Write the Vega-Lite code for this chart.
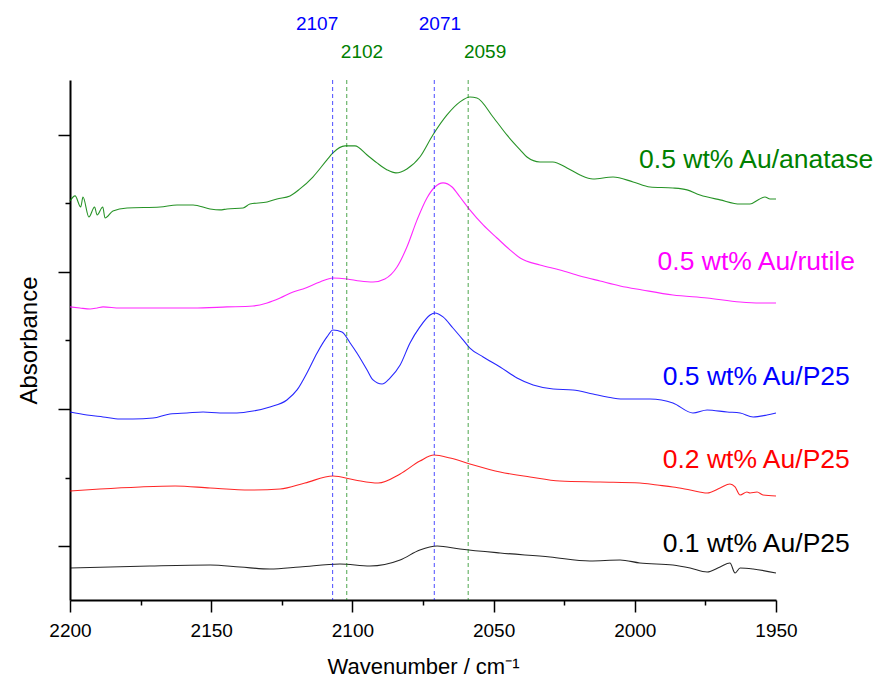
{
  "$schema": "https://vega.github.io/schema/vega-lite/v6.json",
  "width": 706,
  "height": 520,
  "autosize": {"type": "none"},
  "padding": {"left": 70, "top": 80, "right": 102, "bottom": 82},
  "background": "white",
  "config": {
    "view": {"stroke": null},
    "font": "Liberation Sans",
    "axis": {
      "grid": false,
      "domainColor": "black",
      "domainWidth": 2,
      "tickColor": "black",
      "tickWidth": 1.5,
      "labelColor": "black",
      "titleColor": "black",
      "labelFont": "Liberation Sans",
      "titleFont": "Liberation Sans",
      "titleFontWeight": "normal"
    }
  },
  "datasets": {
    "spectra": [
      {"series": "0.5 wt% Au/anatase", "wn": 2200, "a": 2.518},
      {"series": "0.5 wt% Au/anatase", "wn": 2198.2, "a": 2.555},
      {"series": "0.5 wt% Au/anatase", "wn": 2196.2, "a": 2.474},
      {"series": "0.5 wt% Au/anatase", "wn": 2195.4, "a": 2.547},
      {"series": "0.5 wt% Au/anatase", "wn": 2193.3, "a": 2.401},
      {"series": "0.5 wt% Au/anatase", "wn": 2191.3, "a": 2.474},
      {"series": "0.5 wt% Au/anatase", "wn": 2190.4, "a": 2.416},
      {"series": "0.5 wt% Au/anatase", "wn": 2188.4, "a": 2.474},
      {"series": "0.5 wt% Au/anatase", "wn": 2187.6, "a": 2.394},
      {"series": "0.5 wt% Au/anatase", "wn": 2184.8, "a": 2.445},
      {"series": "0.5 wt% Au/anatase", "wn": 2179.8, "a": 2.467},
      {"series": "0.5 wt% Au/anatase", "wn": 2168.1, "a": 2.474},
      {"series": "0.5 wt% Au/anatase", "wn": 2162.1, "a": 2.489},
      {"series": "0.5 wt% Au/anatase", "wn": 2156.4, "a": 2.489},
      {"series": "0.5 wt% Au/anatase", "wn": 2150.4, "a": 2.46},
      {"series": "0.5 wt% Au/anatase", "wn": 2146.9, "a": 2.453},
      {"series": "0.5 wt% Au/anatase", "wn": 2144.4, "a": 2.46},
      {"series": "0.5 wt% Au/anatase", "wn": 2138.7, "a": 2.467},
      {"series": "0.5 wt% Au/anatase", "wn": 2136.3, "a": 2.496},
      {"series": "0.5 wt% Au/anatase", "wn": 2130.2, "a": 2.511},
      {"series": "0.5 wt% Au/anatase", "wn": 2126.7, "a": 2.533},
      {"series": "0.5 wt% Au/anatase", "wn": 2122.1, "a": 2.555},
      {"series": "0.5 wt% Au/anatase", "wn": 2118.6, "a": 2.606},
      {"series": "0.5 wt% Au/anatase", "wn": 2114.0, "a": 2.693},
      {"series": "0.5 wt% Au/anatase", "wn": 2109.0, "a": 2.818},
      {"series": "0.5 wt% Au/anatase", "wn": 2106.9, "a": 2.869},
      {"series": "0.5 wt% Au/anatase", "wn": 2102.6, "a": 2.92},
      {"series": "0.5 wt% Au/anatase", "wn": 2099.1, "a": 2.92},
      {"series": "0.5 wt% Au/anatase", "wn": 2094.8, "a": 2.854},
      {"series": "0.5 wt% Au/anatase", "wn": 2091.3, "a": 2.796},
      {"series": "0.5 wt% Au/anatase", "wn": 2087.7, "a": 2.745},
      {"series": "0.5 wt% Au/anatase", "wn": 2084.6, "a": 2.723},
      {"series": "0.5 wt% Au/anatase", "wn": 2080.7, "a": 2.752},
      {"series": "0.5 wt% Au/anatase", "wn": 2076.1, "a": 2.839},
      {"series": "0.5 wt% Au/anatase", "wn": 2071.5, "a": 3.0},
      {"series": "0.5 wt% Au/anatase", "wn": 2066.5, "a": 3.146},
      {"series": "0.5 wt% Au/anatase", "wn": 2061.9, "a": 3.241},
      {"series": "0.5 wt% Au/anatase", "wn": 2058.4, "a": 3.277},
      {"series": "0.5 wt% Au/anatase", "wn": 2055.9, "a": 3.27},
      {"series": "0.5 wt% Au/anatase", "wn": 2050.2, "a": 3.131},
      {"series": "0.5 wt% Au/anatase", "wn": 2045.3, "a": 3.0},
      {"series": "0.5 wt% Au/anatase", "wn": 2040.6, "a": 2.891},
      {"series": "0.5 wt% Au/anatase", "wn": 2038.2, "a": 2.839},
      {"series": "0.5 wt% Au/anatase", "wn": 2033.6, "a": 2.803},
      {"series": "0.5 wt% Au/anatase", "wn": 2029.0, "a": 2.803},
      {"series": "0.5 wt% Au/anatase", "wn": 2024.0, "a": 2.759},
      {"series": "0.5 wt% Au/anatase", "wn": 2019.4, "a": 2.708},
      {"series": "0.5 wt% Au/anatase", "wn": 2014.8, "a": 2.679},
      {"series": "0.5 wt% Au/anatase", "wn": 2007.7, "a": 2.693},
      {"series": "0.5 wt% Au/anatase", "wn": 2000.6, "a": 2.657},
      {"series": "0.5 wt% Au/anatase", "wn": 1994.6, "a": 2.62},
      {"series": "0.5 wt% Au/anatase", "wn": 1986.5, "a": 2.613},
      {"series": "0.5 wt% Au/anatase", "wn": 1981.5, "a": 2.599},
      {"series": "0.5 wt% Au/anatase", "wn": 1976.9, "a": 2.562},
      {"series": "0.5 wt% Au/anatase", "wn": 1969.8, "a": 2.526},
      {"series": "0.5 wt% Au/anatase", "wn": 1962.7, "a": 2.496},
      {"series": "0.5 wt% Au/anatase", "wn": 1959.2, "a": 2.496},
      {"series": "0.5 wt% Au/anatase", "wn": 1956.4, "a": 2.526},
      {"series": "0.5 wt% Au/anatase", "wn": 1953.9, "a": 2.547},
      {"series": "0.5 wt% Au/anatase", "wn": 1952.1, "a": 2.533},
      {"series": "0.5 wt% Au/anatase", "wn": 1950, "a": 2.533},

      {"series": "0.5 wt% Au/rutile", "wn": 2200, "a": 1.745},
      {"series": "0.5 wt% Au/rutile", "wn": 2196.5, "a": 1.737},
      {"series": "0.5 wt% Au/rutile", "wn": 2192.9, "a": 1.73},
      {"series": "0.5 wt% Au/rutile", "wn": 2190.4, "a": 1.737},
      {"series": "0.5 wt% Au/rutile", "wn": 2188.3, "a": 1.745},
      {"series": "0.5 wt% Au/rutile", "wn": 2182.3, "a": 1.737},
      {"series": "0.5 wt% Au/rutile", "wn": 2168.1, "a": 1.737},
      {"series": "0.5 wt% Au/rutile", "wn": 2156.4, "a": 1.737},
      {"series": "0.5 wt% Au/rutile", "wn": 2144.4, "a": 1.745},
      {"series": "0.5 wt% Au/rutile", "wn": 2135.2, "a": 1.752},
      {"series": "0.5 wt% Au/rutile", "wn": 2130.2, "a": 1.774},
      {"series": "0.5 wt% Au/rutile", "wn": 2125.6, "a": 1.81},
      {"series": "0.5 wt% Au/rutile", "wn": 2121.0, "a": 1.854},
      {"series": "0.5 wt% Au/rutile", "wn": 2117.5, "a": 1.876},
      {"series": "0.5 wt% Au/rutile", "wn": 2111.5, "a": 1.927},
      {"series": "0.5 wt% Au/rutile", "wn": 2106.9, "a": 1.956},
      {"series": "0.5 wt% Au/rutile", "wn": 2101.9, "a": 1.949},
      {"series": "0.5 wt% Au/rutile", "wn": 2097.3, "a": 1.934},
      {"series": "0.5 wt% Au/rutile", "wn": 2092.7, "a": 1.927},
      {"series": "0.5 wt% Au/rutile", "wn": 2088.5, "a": 1.949},
      {"series": "0.5 wt% Au/rutile", "wn": 2084.2, "a": 2.036},
      {"series": "0.5 wt% Au/rutile", "wn": 2080.7, "a": 2.182},
      {"series": "0.5 wt% Au/rutile", "wn": 2077.1, "a": 2.38},
      {"series": "0.5 wt% Au/rutile", "wn": 2073.6, "a": 2.54},
      {"series": "0.5 wt% Au/rutile", "wn": 2070.8, "a": 2.62},
      {"series": "0.5 wt% Au/rutile", "wn": 2067.9, "a": 2.65},
      {"series": "0.5 wt% Au/rutile", "wn": 2064.7, "a": 2.62},
      {"series": "0.5 wt% Au/rutile", "wn": 2061.9, "a": 2.547},
      {"series": "0.5 wt% Au/rutile", "wn": 2058.4, "a": 2.453},
      {"series": "0.5 wt% Au/rutile", "wn": 2053.7, "a": 2.343},
      {"series": "0.5 wt% Au/rutile", "wn": 2048.8, "a": 2.248},
      {"series": "0.5 wt% Au/rutile", "wn": 2044.2, "a": 2.161},
      {"series": "0.5 wt% Au/rutile", "wn": 2040.6, "a": 2.102},
      {"series": "0.5 wt% Au/rutile", "wn": 2033.6, "a": 2.051},
      {"series": "0.5 wt% Au/rutile", "wn": 2026.5, "a": 2.015},
      {"series": "0.5 wt% Au/rutile", "wn": 2019.4, "a": 1.971},
      {"series": "0.5 wt% Au/rutile", "wn": 2012.3, "a": 1.934},
      {"series": "0.5 wt% Au/rutile", "wn": 2005.2, "a": 1.898},
      {"series": "0.5 wt% Au/rutile", "wn": 1997.4, "a": 1.869},
      {"series": "0.5 wt% Au/rutile", "wn": 1986.5, "a": 1.832},
      {"series": "0.5 wt% Au/rutile", "wn": 1974.4, "a": 1.81},
      {"series": "0.5 wt% Au/rutile", "wn": 1962.7, "a": 1.781},
      {"series": "0.5 wt% Au/rutile", "wn": 1955.7, "a": 1.774},
      {"series": "0.5 wt% Au/rutile", "wn": 1950, "a": 1.774},

      {"series": "0.5 wt% Au/P25", "wn": 2200, "a": 0.978},
      {"series": "0.5 wt% Au/P25", "wn": 2194.0, "a": 0.956},
      {"series": "0.5 wt% Au/P25", "wn": 2188.3, "a": 0.942},
      {"series": "0.5 wt% Au/P25", "wn": 2182.3, "a": 0.927},
      {"series": "0.5 wt% Au/P25", "wn": 2177.7, "a": 0.927},
      {"series": "0.5 wt% Au/P25", "wn": 2170.6, "a": 0.934},
      {"series": "0.5 wt% Au/P25", "wn": 2164.6, "a": 0.964},
      {"series": "0.5 wt% Au/P25", "wn": 2158.6, "a": 0.971},
      {"series": "0.5 wt% Au/P25", "wn": 2152.9, "a": 0.978},
      {"series": "0.5 wt% Au/P25", "wn": 2146.9, "a": 0.971},
      {"series": "0.5 wt% Au/P25", "wn": 2140.9, "a": 0.971},
      {"series": "0.5 wt% Au/P25", "wn": 2135.2, "a": 0.985},
      {"series": "0.5 wt% Au/P25", "wn": 2129.2, "a": 1.015},
      {"series": "0.5 wt% Au/P25", "wn": 2123.2, "a": 1.066},
      {"series": "0.5 wt% Au/P25", "wn": 2119.6, "a": 1.139},
      {"series": "0.5 wt% Au/P25", "wn": 2116.1, "a": 1.263},
      {"series": "0.5 wt% Au/P25", "wn": 2112.5, "a": 1.409},
      {"series": "0.5 wt% Au/P25", "wn": 2109.0, "a": 1.526},
      {"series": "0.5 wt% Au/P25", "wn": 2106.9, "a": 1.577},
      {"series": "0.5 wt% Au/P25", "wn": 2103.7, "a": 1.562},
      {"series": "0.5 wt% Au/P25", "wn": 2100.8, "a": 1.482},
      {"series": "0.5 wt% Au/P25", "wn": 2098.4, "a": 1.409},
      {"series": "0.5 wt% Au/P25", "wn": 2094.8, "a": 1.285},
      {"series": "0.5 wt% Au/P25", "wn": 2092.7, "a": 1.212},
      {"series": "0.5 wt% Au/P25", "wn": 2089.5, "a": 1.182},
      {"series": "0.5 wt% Au/P25", "wn": 2086.7, "a": 1.226},
      {"series": "0.5 wt% Au/P25", "wn": 2083.1, "a": 1.321},
      {"series": "0.5 wt% Au/P25", "wn": 2079.6, "a": 1.482},
      {"series": "0.5 wt% Au/P25", "wn": 2076.1, "a": 1.599},
      {"series": "0.5 wt% Au/P25", "wn": 2072.5, "a": 1.686},
      {"series": "0.5 wt% Au/P25", "wn": 2070.8, "a": 1.701},
      {"series": "0.5 wt% Au/P25", "wn": 2067.9, "a": 1.672},
      {"series": "0.5 wt% Au/P25", "wn": 2064.4, "a": 1.591},
      {"series": "0.5 wt% Au/P25", "wn": 2060.8, "a": 1.504},
      {"series": "0.5 wt% Au/P25", "wn": 2058.4, "a": 1.445},
      {"series": "0.5 wt% Au/P25", "wn": 2053.7, "a": 1.38},
      {"series": "0.5 wt% Au/P25", "wn": 2047.7, "a": 1.307},
      {"series": "0.5 wt% Au/P25", "wn": 2041.7, "a": 1.226},
      {"series": "0.5 wt% Au/P25", "wn": 2036.0, "a": 1.175},
      {"series": "0.5 wt% Au/P25", "wn": 2028.9, "a": 1.146},
      {"series": "0.5 wt% Au/P25", "wn": 2021.9, "a": 1.139},
      {"series": "0.5 wt% Au/P25", "wn": 2014.8, "a": 1.109},
      {"series": "0.5 wt% Au/P25", "wn": 2009.8, "a": 1.088},
      {"series": "0.5 wt% Au/P25", "wn": 2004.2, "a": 1.073},
      {"series": "0.5 wt% Au/P25", "wn": 1994.6, "a": 1.073},
      {"series": "0.5 wt% Au/P25", "wn": 1986.5, "a": 1.044},
      {"series": "0.5 wt% Au/P25", "wn": 1979.4, "a": 0.971},
      {"series": "0.5 wt% Au/P25", "wn": 1974.4, "a": 0.993},
      {"series": "0.5 wt% Au/P25", "wn": 1967.3, "a": 0.978},
      {"series": "0.5 wt% Au/P25", "wn": 1962.7, "a": 0.971},
      {"series": "0.5 wt% Au/P25", "wn": 1958.1, "a": 0.942},
      {"series": "0.5 wt% Au/P25", "wn": 1953.2, "a": 0.956},
      {"series": "0.5 wt% Au/P25", "wn": 1950, "a": 0.971},

      {"series": "0.2 wt% Au/P25", "wn": 2200, "a": 0.401},
      {"series": "0.2 wt% Au/P25", "wn": 2189.4, "a": 0.416},
      {"series": "0.2 wt% Au/P25", "wn": 2175.2, "a": 0.431},
      {"series": "0.2 wt% Au/P25", "wn": 2162.8, "a": 0.438},
      {"series": "0.2 wt% Au/P25", "wn": 2150.4, "a": 0.423},
      {"series": "0.2 wt% Au/P25", "wn": 2136.3, "a": 0.409},
      {"series": "0.2 wt% Au/P25", "wn": 2125.6, "a": 0.416},
      {"series": "0.2 wt% Au/P25", "wn": 2116.8, "a": 0.46},
      {"series": "0.2 wt% Au/P25", "wn": 2106.9, "a": 0.511},
      {"series": "0.2 wt% Au/P25", "wn": 2099.1, "a": 0.482},
      {"series": "0.2 wt% Au/P25", "wn": 2090.9, "a": 0.46},
      {"series": "0.2 wt% Au/P25", "wn": 2083.1, "a": 0.526},
      {"series": "0.2 wt% Au/P25", "wn": 2076.1, "a": 0.62},
      {"series": "0.2 wt% Au/P25", "wn": 2071.1, "a": 0.664},
      {"series": "0.2 wt% Au/P25", "wn": 2065.4, "a": 0.642},
      {"series": "0.2 wt% Au/P25", "wn": 2058.4, "a": 0.599},
      {"series": "0.2 wt% Au/P25", "wn": 2047.7, "a": 0.54},
      {"series": "0.2 wt% Au/P25", "wn": 2037.1, "a": 0.504},
      {"series": "0.2 wt% Au/P25", "wn": 2026.5, "a": 0.474},
      {"series": "0.2 wt% Au/P25", "wn": 2012.3, "a": 0.467},
      {"series": "0.2 wt% Au/P25", "wn": 1998.2, "a": 0.46},
      {"series": "0.2 wt% Au/P25", "wn": 1992.1, "a": 0.445},
      {"series": "0.2 wt% Au/P25", "wn": 1986.5, "a": 0.431},
      {"series": "0.2 wt% Au/P25", "wn": 1980.4, "a": 0.409},
      {"series": "0.2 wt% Au/P25", "wn": 1974.4, "a": 0.387},
      {"series": "0.2 wt% Au/P25", "wn": 1969.8, "a": 0.423},
      {"series": "0.2 wt% Au/P25", "wn": 1966.3, "a": 0.453},
      {"series": "0.2 wt% Au/P25", "wn": 1964.5, "a": 0.431},
      {"series": "0.2 wt% Au/P25", "wn": 1962.7, "a": 0.372},
      {"series": "0.2 wt% Au/P25", "wn": 1960.3, "a": 0.394},
      {"series": "0.2 wt% Au/P25", "wn": 1959.2, "a": 0.387},
      {"series": "0.2 wt% Au/P25", "wn": 1956.7, "a": 0.394},
      {"series": "0.2 wt% Au/P25", "wn": 1954.6, "a": 0.372},
      {"series": "0.2 wt% Au/P25", "wn": 1950, "a": 0.365},

      {"series": "0.1 wt% Au/P25", "wn": 2200, "a": -0.161},
      {"series": "0.1 wt% Au/P25", "wn": 2185.8, "a": -0.153},
      {"series": "0.1 wt% Au/P25", "wn": 2171.7, "a": -0.146},
      {"series": "0.1 wt% Au/P25", "wn": 2150.4, "a": -0.139},
      {"series": "0.1 wt% Au/P25", "wn": 2139.8, "a": -0.153},
      {"series": "0.1 wt% Au/P25", "wn": 2129.2, "a": -0.168},
      {"series": "0.1 wt% Au/P25", "wn": 2118.6, "a": -0.153},
      {"series": "0.1 wt% Au/P25", "wn": 2104.4, "a": -0.131},
      {"series": "0.1 wt% Au/P25", "wn": 2093.8, "a": -0.146},
      {"series": "0.1 wt% Au/P25", "wn": 2083.1, "a": -0.102},
      {"series": "0.1 wt% Au/P25", "wn": 2076.1, "a": -0.029},
      {"series": "0.1 wt% Au/P25", "wn": 2070.0, "a": 0.0},
      {"series": "0.1 wt% Au/P25", "wn": 2061.9, "a": -0.022},
      {"series": "0.1 wt% Au/P25", "wn": 2047.7, "a": -0.051},
      {"series": "0.1 wt% Au/P25", "wn": 2030.0, "a": -0.08},
      {"series": "0.1 wt% Au/P25", "wn": 2015.9, "a": -0.109},
      {"series": "0.1 wt% Au/P25", "wn": 2005.2, "a": -0.102},
      {"series": "0.1 wt% Au/P25", "wn": 1998.2, "a": -0.124},
      {"series": "0.1 wt% Au/P25", "wn": 1986.5, "a": -0.139},
      {"series": "0.1 wt% Au/P25", "wn": 1980.4, "a": -0.161},
      {"series": "0.1 wt% Au/P25", "wn": 1974.4, "a": -0.19},
      {"series": "0.1 wt% Au/P25", "wn": 1969.8, "a": -0.153},
      {"series": "0.1 wt% Au/P25", "wn": 1966.3, "a": -0.124},
      {"series": "0.1 wt% Au/P25", "wn": 1964.5, "a": -0.197},
      {"series": "0.1 wt% Au/P25", "wn": 1962.7, "a": -0.161},
      {"series": "0.1 wt% Au/P25", "wn": 1958.1, "a": -0.168},
      {"series": "0.1 wt% Au/P25", "wn": 1950, "a": -0.197}
    ],
    "peaks": [
      {"series": "0.5 wt% Au/P25", "peak": 2107, "label": "2107", "lx": 2112.5, "ly": 3.81},
      {"series": "0.5 wt% Au/anatase", "peak": 2102, "label": "2102", "lx": 2096.6, "ly": 3.606},
      {"series": "0.5 wt% Au/P25", "peak": 2071, "label": "2071", "lx": 2069.0, "ly": 3.81},
      {"series": "0.5 wt% Au/anatase", "peak": 2059, "label": "2059", "lx": 2053.0, "ly": 3.606}
    ],
    "labels": [
      {"series": "0.5 wt% Au/anatase", "lx": 1957, "ly": 2.818},
      {"series": "0.5 wt% Au/rutile", "lx": 1957, "ly": 2.073},
      {"series": "0.5 wt% Au/P25", "lx": 1957, "ly": 1.234},
      {"series": "0.2 wt% Au/P25", "lx": 1957, "ly": 0.628},
      {"series": "0.1 wt% Au/P25", "lx": 1957, "ly": 0.015}
    ]
  },
  "encoding": {
    "x": {"field": "wn", "type": "quantitative",
      "scale": {"domain": [1950, 2200], "reverse": true, "nice": false, "zero": false},
      "title": "Wavenumber / cm⁻¹",
      "axis": {
        "values": [2200, 2175, 2150, 2125, 2100, 2075, 2050, 2025, 2000, 1975, 1950],
        "format": "d",
        "labelExpr": "datum.value % 50 === 0 ? datum.label : ''",
        "labelOverlap": false,
        "labelFlush": false,
        "labelFontSize": 19,
        "labelPadding": 9,
        "tickSize": {"condition": {"test": "datum.value % 50 === 0", "value": 12}, "value": 5},
        "titleFontSize": 22,
        "titlePadding": 16
      }
    },
    "y": {"field": "a", "type": "quantitative",
      "scale": {"domain": [-0.394, 3.401], "nice": false, "zero": false},
      "title": "Absorbance",
      "axis": {
        "values": [0, 0.5, 1, 1.5, 2, 2.5, 3],
        "labels": false,
        "tickSize": {"condition": {"test": "datum.value % 1 === 0", "value": 12}, "value": 5},
        "titleFontSize": 24,
        "titlePadding": 16
      }
    },
    "color": {"field": "series", "type": "nominal",
      "scale": {"domain": ["0.1 wt% Au/P25", "0.2 wt% Au/P25", "0.5 wt% Au/P25", "0.5 wt% Au/rutile", "0.5 wt% Au/anatase"],
                "range": ["#000000", "#ff0000", "#0000ff", "#ff00ff", "#008000"]},
      "legend": null}
  },
  "layer": [
    {
      "data": {"name": "spectra"},
      "mark": {"type": "line", "strokeWidth": 1.1, "interpolate": "monotone", "opacity": 0.85}
    },
    {
      "data": {"name": "peaks"},
      "mark": {"type": "rule", "strokeDash": [4, 3], "strokeWidth": 1, "opacity": 0.7},
      "encoding": {
        "x": {"field": "peak", "type": "quantitative", "title": "Wavenumber / cm⁻¹"},
        "y": {"value": 0},
        "y2": {"value": 520}
      }
    },
    {
      "data": {"name": "peaks"},
      "mark": {"type": "text", "fontSize": 19, "align": "center", "baseline": "middle", "font": "Liberation Sans"},
      "encoding": {
        "x": {"field": "lx", "type": "quantitative", "title": "Wavenumber / cm⁻¹"},
        "y": {"field": "ly", "type": "quantitative", "title": "Absorbance"},
        "text": {"field": "label", "type": "nominal"}
      }
    },
    {
      "data": {"name": "labels"},
      "mark": {"type": "text", "fontSize": 26.5, "align": "center", "baseline": "middle", "font": "Liberation Sans"},
      "encoding": {
        "x": {"field": "lx", "type": "quantitative", "title": "Wavenumber / cm⁻¹"},
        "y": {"field": "ly", "type": "quantitative", "title": "Absorbance"},
        "text": {"field": "series", "type": "nominal"}
      }
    }
  ]
}
